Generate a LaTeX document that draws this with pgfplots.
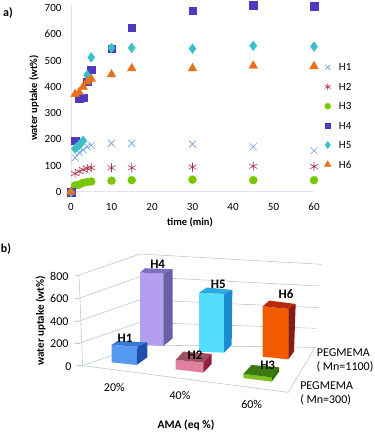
\documentclass[border=0pt]{standalone}
\usepackage{fontspec}
\setmainfont{Carlito}
\usepackage{pgfplots}
\pgfplotsset{compat=1.18}
\definecolor{cHa}{HTML}{6A9FE0}
\definecolor{cHb}{HTML}{A8324A}
\definecolor{cHc}{HTML}{77C800}
\definecolor{cHd}{HTML}{5038C0}
\definecolor{cHe}{HTML}{3CC0C8}
\definecolor{cHf}{HTML}{E8701A}
\definecolor{gridc}{HTML}{BCC8C8}
\newcommand\dc[1]{\definecolor{c#1}{HTML}{#1}}
\dc{B39EF0}\dc{7F6DC0}\dc{6860A8}\dc{55DDFF}\dc{2BA8E0}\dc{1C8CD0}
\dc{F25A00}\dc{B82A10}\dc{8B1A10}\dc{5599F0}\dc{3A78D8}\dc{1F4FA8}
\dc{E080A0}\dc{A05060}\dc{902040}\dc{80C020}\dc{3A7A10}\dc{2A6A00}
\newcommand\poly[2]{\addplot[fill=c#1,draw=none] table[row sep=\\,x=x,y expr=\thisrow{y}-0.315*\thisrow{v}] {x y v\\ #2};}
\newcommand\gline[1]{\addplot[gridc,line width=0.6pt] coordinates {#1};}
\newcommand\lab[4][\normalfont]{\node[font=#1\fontsize{#2}{#2}\selectfont,inner sep=0pt] at (axis cs:#3) {#4};}
\begin{document}
\begin{tikzpicture}[x=1pt,y=1pt]
\useasboundingbox (0,0) rectangle (375,432);
% panel a
\begin{axis}[
  at={(71pt,240pt)},anchor=origin,scale only axis,width=243pt,height=188pt,
  xmin=0,xmax=60,ymin=0,ymax=715,clip=false,
  axis x line*=bottom,axis y line*=left,
  axis line style={draw=black!15!blue!12!white,line width=1pt,-},
  xtick={0,10,...,60},ytick={0,100,...,700},
  tick style={draw=none},
  tick label style={font=\fontsize{11}{12}\selectfont},
  /pgf/number format/assume math mode=true,
  xticklabel style={yshift=-8pt},
  yticklabel style={xshift=-6pt},
  xlabel={\textbf{time (min)}},
  ylabel={\textbf{water uptake (wt\%)}},
  label style={font=\fontsize{10.5}{12}\selectfont},
  xlabel style={at={(axis description cs:0.49,0)},anchor=center,yshift=-30pt},
  ylabel style={at={(axis description cs:0,0.5)},anchor=center,yshift=37pt},
  legend style={at={(1.03,0.404)},anchor=west,draw=none,fill=none,
    font=\fontsize{11}{12}\selectfont,row sep=10.3pt,
    /tikz/column 1/.style={column sep=7pt},
    nodes={inner sep=1pt,text depth=0pt}},
  legend cell align=left,
  legend image post style={scale=0.75},
  legend image code/.code={\draw[mark repeat=1,mark phase=1,#1] plot coordinates {(0.2cm,0cm)};},
  every axis plot/.append style={only marks},
]
\addplot[cHa,mark=x,mark size=5pt,mark options={line width=0.6pt}] coordinates {(0,0)(1,130)(2,150)(3,160)(4,172)(5,178)(10,185)(15,185)(30,182)(45,172)(60,157)};
\addlegendentry{H1}
\addplot[cHb,mark=asterisk,mark size=4.5pt,mark options={line width=0.6pt}] coordinates {(0,0)(1,70)(2,78)(3,85)(4,90)(5,92)(10,92)(15,92)(30,95)(45,98)(60,97)};
\addlegendentry{H2}
\addplot[cHc,mark=*,mark size=4pt,mark options={draw=cHc,fill=cHc}] coordinates {(0,0)(1,25)(2,28)(3,35)(4,38)(5,40)(10,43)(15,45)(30,47)(45,45)(60,45)};
\addlegendentry{H3}
\addplot[cHd,mark=square*,mark size=3.8pt,mark options={draw=cHd,fill=cHd}] coordinates {(0,0)(1,195)(2,355)(3,358)(4,420)(5,465)(10,545)(15,625)(30,690)(45,710)(60,706)};
\addlegendentry{H4}
\addplot[cHe,mark=diamond*,mark size=4.8pt,mark options={draw=cHe,fill=cHe}] coordinates {(0,0)(1,165)(1.5,172)(2,178)(2.5,187)(3,195)(4,445)(5,512)(10,548)(15,548)(30,545)(45,556)(60,553)};
\addlegendentry{H5}
\addplot[cHf,mark=triangle*,mark size=5pt,mark options={draw=cHf,fill=cHf}] coordinates {(0,0)(1,372)(2,380)(3,400)(4,420)(5,430)(10,447)(15,470)(30,470)(45,480)(60,478)};
\addlegendentry{H6}
\end{axis}
\node[font=\bfseries\fontsize{12}{12}\selectfont] at (8,419) {a)};
\node[font=\bfseries\fontsize{12}{12}\selectfont] at (6,183) {b)};
% panel b (axis in 1/3-pixel units of this panel)
\begin{axis}[
  at={(0pt,0pt)},anchor=south west,scale only axis,width=375pt,height=202pt,
  xmin=0,xmax=1125,ymin=0,ymax=606,y dir=reverse,hide axis,clip=false,
]
\gline{(237,135)(420,72)(965,103)}
\gline{(237,205)(420,140)(960,168)}
\gline{(237,273)(420,209)(955,233)}
\gline{(237,340)(420,277)(950,295)}
\gline{(248,407)(425,345)(945,352)}
\gline{(237,135)(248,407)}
\gline{(248,407)(865,487)(945,352)}
\gline{(225,135)(237,135)}
\gline{(225,205)(237,205)}
\gline{(225,273)(237,273)}
\gline{(225,340)(240,340)}
\gline{(232,407)(248,407)}
% H4 (value 690)
\poly{B39EF0}{420 345 690\\490 348 690\\490 348 0\\420 345 0\\}
\poly{7F6DC0}{420 345 690\\435 332 690\\518 335 690\\490 348 690\\}
\poly{6860A8}{490 348 690\\518 335 690\\518 325 0\\490 348 0\\}
% H5 (value 560)
\poly{55DDFF}{597 365 560\\672 368 560\\672 368 0\\597 365 0\\}
\poly{2BA8E0}{597 365 560\\620 349 560\\697 356 560\\672 368 560\\}
\poly{1C8CD0}{672 368 560\\697 356 560\\695 345 0\\672 368 0\\}
% H6 (value 480)
\poly{F25A00}{788 380 480\\865 388 480\\865 388 0\\788 380 0\\}
\poly{B82A10}{788 380 480\\808 363 480\\887 373 480\\865 388 480\\}
\poly{8B1A10}{865 388 480\\887 373 480\\882 365 0\\865 388 0\\}
% H1 (value 165)
\poly{5599F0}{335 397 165\\412 402 165\\410 405 0\\335 397 0\\}
\poly{3A78D8}{335 397 165\\352 385 165\\442 389 165\\412 402 165\\}
\poly{1F4FA8}{412 402 165\\442 389 165\\442 382 0\\410 405 0\\}
% H2 (value 90)
\poly{E080A0}{527 418 90\\610 426 90\\610 428 0\\527 418 0\\}
\poly{A05060}{527 418 90\\550 393 90\\635 400 90\\610 426 90\\}
\poly{902040}{610 426 90\\635 400 90\\635 402 0\\610 428 0\\}
% H3 (value 35)
\poly{80C020}{730 443 35\\815 453 35\\815 455 0\\730 444 0\\}
\poly{3A7A10}{730 443 35\\755 416 35\\837 423 35\\815 453 35\\}
\poly{2A6A00}{815 453 35\\837 423 35\\837 425 0\\815 455 0\\}
% tick labels
\lab{12}{178,138}{800}
\lab{12}{178,206}{600}
\lab{12}{178,274}{400}
\lab{12}{178,342}{200}
\lab{12}{205,409}{0}
\lab{12}{343,472}{20\%}
\lab{12}{540,495}{40\%}
\lab{12}{755,523}{60\%}
\lab{12}{1030,368}{PEGMEMA}
\lab{12}{1035,412}{( Mn=1100)}
\lab{12}{980,467}{PEGMEMA}
\lab{12}{977,510}{( Mn=300)}
\lab[\bfseries]{11.5}{558,585}{AMA (eq \%)}
\node[font=\bfseries\fontsize{11}{11}\selectfont,rotate=90,inner sep=0pt] at (axis cs:122,272) {water uptake (wt\%)};
\lab[\bfseries]{13}{375,326}{H1}
\lab[\bfseries]{13}{585,377}{H2}
\lab[\bfseries]{13}{803,407}{H3}
\lab[\bfseries]{13}{473,103}{H4}
\lab[\bfseries]{13}{655,163}{H5}
\lab[\bfseries]{13}{858,193}{H6}
\end{axis}
\end{tikzpicture}
\end{document}
